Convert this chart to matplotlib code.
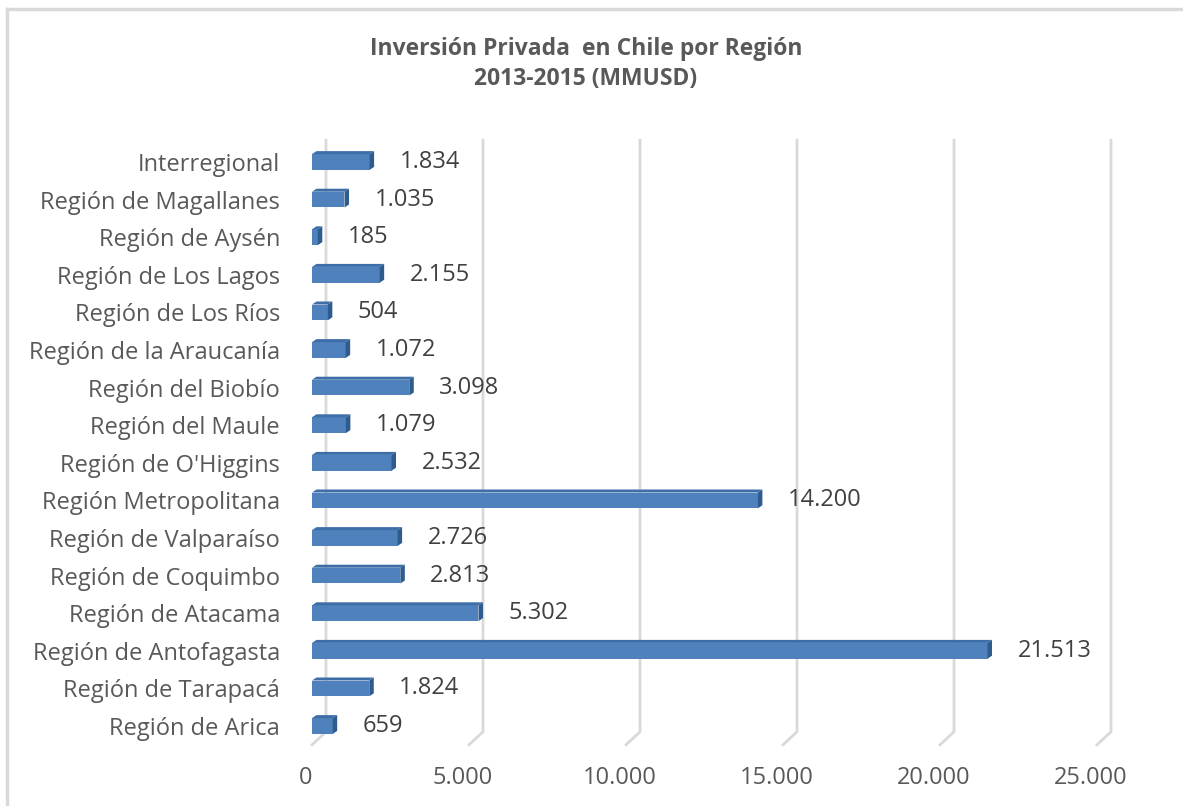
import matplotlib
matplotlib.use("Agg")
import matplotlib.pyplot as plt
from matplotlib.patches import Polygon, Rectangle
from matplotlib.ticker import FuncFormatter
from matplotlib.transforms import ScaledTranslation

categories = ["Región de Arica", "Región de Tarapacá", "Región de Antofagasta",
              "Región de Atacama", "Región de Coquimbo", "Región de Valparaíso",
              "Región Metropolitana", "Región de O'Higgins", "Región del Maule",
              "Región del Biobío", "Región de la Araucanía", "Región de Los Ríos",
              "Región de Los Lagos", "Región de Aysén", "Región de Magallanes",
              "Interregional"]
values = [659, 1824, 21513, 5302, 2813, 2726, 14200, 2532, 1079, 3098,
          1072, 504, 2155, 185, 1035, 1834]
xticks = [0, 5000, 10000, 15000, 20000, 25000]
title = "Inversión Privada  en Chile por Región\n2013-2015 (MMUSD)"

W, H = 1183, 806
plt.rcParams['font.family'] = ['Open Sans', 'DejaVu Sans']
fig = plt.figure(figsize=(W / 100, H / 100), dpi=100)

# axes placement (pixels)
x0, x1 = 312, 1097
ytop, ybot = 143.2, 744.8
ax = fig.add_axes([x0 / W, 1 - ybot / H, (x1 - x0) / W, (ybot - ytop) / H])
ax.set_xlim(0, 25000)
ax.set_ylim(-0.5, len(categories) - 0.5)
for s in ax.spines.values():
    s.set_visible(False)

upx = 25000 / (x1 - x0)
upy = len(categories) / (ybot - ytop)

# back-wall gridlines with floor tails
gdx, gdy = 14 * upx, 13 * upy
for t in xticks:
    ax.plot([t, t + gdx, t + gdx], [-0.5, -0.5 + gdy, 15.5 + 3 * upy],
            color="#d9d9d9", lw=2, clip_on=False, zorder=0)

# 3D-ish bars
blue, side, topc = "#4f81bd", "#2f5c8f", "#3d6ea8"
h = 0.42
ddx, ddy = 4.5 * upx, 3 * upy
for i, v in enumerate(values):
    yb, yt = i - h / 2, i + h / 2
    ax.add_patch(Rectangle((0, yb), v, h, facecolor=blue, edgecolor="none", zorder=3))
    ax.add_patch(Polygon([(0, yt), (v, yt), (v + ddx, yt + ddy), (ddx, yt + ddy)],
                         closed=True, facecolor=topc, edgecolor="none", zorder=3))
    ax.add_patch(Polygon([(v, yb), (v, yt), (v + ddx, yt + ddy), (v + ddx, yb + ddy)],
                         closed=True, facecolor=side, edgecolor="none", zorder=3))
    ax.annotate(f"{v:,}".replace(",", "."), (v, i), xytext=(30, 0),
                textcoords="offset pixels", va="center", ha="left",
                fontsize=17, color="#404040", zorder=4)

ax.set_yticks(range(len(categories)))
ax.set_yticklabels(categories, fontsize=17, color="#595959")
ax.set_xticks(xticks)
ax.xaxis.set_major_formatter(FuncFormatter(lambda x, p: f"{int(x):,}".replace(",", ".")))
ax.tick_params(axis="x", labelsize=17, labelcolor="#595959", length=0, pad=15)
ax.tick_params(axis="y", length=0, pad=23)
shift = ScaledTranslation(-6 / 100, 0, fig.dpi_scale_trans)
for lab in ax.get_xticklabels():
    lab.set_transform(lab.get_transform() + shift)

fig.text(586 / W, 1 - 64 / H, title, ha="center", va="center", fontsize=16.5,
         fontweight="bold", color="#595959", linespacing=1.35)

fig.lines.append(plt.Line2D([7 / W, 7 / W], [0, 1 - 9 / H], transform=fig.transFigure,
                            color="#d9d9d9", lw=2.5))
fig.lines.append(plt.Line2D([7 / W, 1], [1 - 9 / H, 1 - 9 / H], transform=fig.transFigure,
                            color="#d9d9d9", lw=2.5))

fig.savefig("out.png", dpi=100, facecolor="white")
